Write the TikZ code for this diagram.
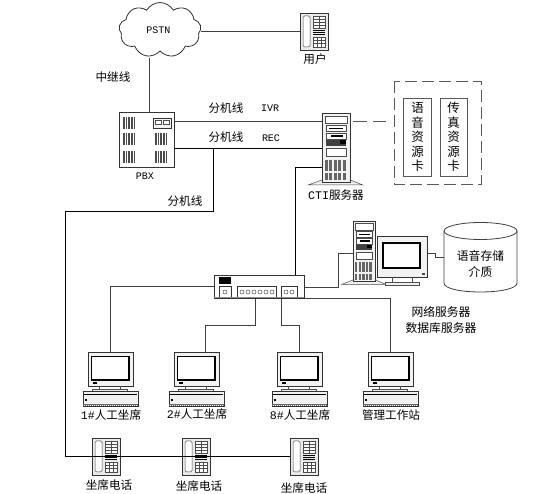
\documentclass[tikz,border=0pt]{standalone}
\usepackage{fontspec}
\usetikzlibrary{shapes.symbols}
\setmainfont{Noto Sans CJK SC}
\newfontfamily\latinmono{Liberation Mono}
\tikzset{
  x=1pt,y=-1pt,
  wire/.style={draw=black!75,line width=0.8pt},
  dark/.style={draw=black!80,line width=0.7pt},
  thin part/.style={draw=black!70,line width=0.5pt},
  lab/.style={font=\fontsize{11.6}{12}\selectfont,inner sep=0pt,text=black},
  mono/.style={font=\fontsize{10}{12}\latinmono,inner sep=0pt,text=black},
  phone/.pic={
    \draw[dark,fill=black!8] (0,0) rectangle (28,37);
    \draw[thin part,fill=white,rounded corners=1.5pt] (3,3) rectangle (10,34);
    \draw[thin part,fill=white] (13,3) rectangle (25,15);
    \foreach \yy in {6,9,12}{\draw[thin part] (13,\yy)--(25,\yy);}
    \draw[thin part] (19,3)--(19,15);
    \foreach \yy in {17,19,21}{\draw[black,line width=0.6pt] (13,\yy)--(25,\yy);}
    \draw[thin part,fill=white] (13,24) rectangle (25,34);
    \foreach \yy in {27,30.5}{\draw[thin part] (13,\yy)--(25,\yy);}
    \foreach \xx in {17,21}{\draw[thin part] (\xx,24)--(\xx,34);}
  },
  workstation/.pic={
    \draw[dark,fill=black!5] (0,0) rectangle (45,34);
    \draw[black,line width=1.6pt,fill=white] (3.5,4.5) rectangle (41,28);
    \fill[black] (5,30.5) rectangle (9,32);
    \draw[thin part] (11,34)--(11,37.5) (32,34)--(32,37.5);
    \draw[thin part,fill=black!8] (4,37.5) rectangle (39,39.5);
    \draw[dark,fill=black!5] (-5,39.5) rectangle (50,54.5);
    \draw[black,line width=1pt] (-4,42.5)--(49,42.5);
    \fill[black!60] (-5,52) rectangle (50,54.5);
    \foreach \xx in {-4,-2,...,49}{\fill[white] (\xx,52.6) rectangle (\xx+.8,53.6);}
    \fill[black] (-3,47.5) rectangle (-1,49.5);
  },
  tower/.pic={
    \draw[thin part,fill=black!6] (-14,72) -- (0,67) -- (28,67) -- (41,72) -- cycle;
    \draw[dark,fill=black!5] (0,0) rectangle (28,69);
    \draw[thin part,fill=white] (3,3) rectangle (25,10);
    \draw[thin part,fill=white] (4,12) rectangle (24,18);
    \draw[black,line width=.7pt] (7,15)--(21,15);
    \draw[thin part,fill=white] (4,20) rectangle (24,26);
    \fill[black] (9,22) rectangle (21,24);
    \fill[black!75] (4,27) rectangle (24,33);
    \fill[black] (18,27) rectangle (24,31);
    \draw[thin part,fill=white] (4,35) rectangle (24,43);
    \foreach \xx in {2.5,7,11.5,16,20.5}{
      \fill[black!60] (\xx,47) rectangle (\xx+3,58);
      \fill[black!60] (\xx,60) rectangle (\xx+3,67);
    }
  },
  vent/.pic={
    \foreach \xx in {0,1.6,...,12}{\draw[black!70,line width=.6pt] (\xx,0)--(\xx,12);}
  },
}
\begin{document}
\begin{tikzpicture}
\useasboundingbox (0,0) rectangle (539,494);
\fill[white] (0,0) rectangle (539,494);
\coordinate (tapA) at (213,148);
\coordinate (tapB) at (213,211);
\coordinate (railC) at (65,211);
\coordinate (railD) at (65,456);
\node[cloud,draw=black!80,fill=white,line width=.8pt,cloud puffs=9,cloud puff arc=120,aspect=1.5,minimum width=82pt,minimum height=55pt,inner sep=0pt] (pstn) at (160,30) {};
\node[mono] at (158.5,30) {PSTN};
\node[draw=black!80,line width=.8pt,minimum width=55pt,minimum height=55pt,inner sep=0pt] (pbx) at (146.5,139.5) {};
\coordinate (phoneU) at (300,31);
\draw[wire] (201,31) -- (phoneU);
\draw[wire] (149,58) -- (149,112);
\draw[wire] (174,121) -- (322,121);
\draw[black,line width=.8pt] (174,148) -- (322,148);
\draw[black,line width=.8pt] (tapA) -- (tapB) -- (railC) -- (railD) -- (290,456);
\draw[black,line width=.8pt] (322,167) -- (295,167) -- (295,275);
\draw[wire] (214,286) -- (110,286) -- (110,352);
\draw[wire] (255,298) -- (255,325) -- (205,325) -- (205,352);
\draw[wire] (281,298) -- (281,325) -- (299,325) -- (299,352);
\draw[wire] (304,287) -- (338,287) -- (338,253) -- (372,253);
\draw[wire] (304,298) -- (390,298) -- (390,352);
\draw[wire] (427,253) -- (435,253) -- (435,257) -- (444,257);
\foreach \px/\py in {123/117,123/133,123/151,155/133,155/151}{\pic at (\px,\py) {vent};}
\draw[dark,fill=black!5] (153,118) rectangle (171,128);
\draw[thin part,fill=white] (155,120) rectangle (161,124);
\draw[thin part,fill=white] (163,120) rectangle (169,124);
\node[mono] at (145,176) {PBX};
\pic at (300,13) {phone};
\node[lab] at (315,59) {用户};
\node[lab] at (113,77) {中继线};
\node[lab] at (226,108) {分机线};
\node[lab] at (226,137) {分机线};
\node[lab] at (185,201) {分机线};
\node[mono] at (270,108) {IVR};
\node[mono] at (271,138) {REC};
\pic at (322,113) {tower};
\node[lab] at (336,195) {{\latinmono CTI}服务器};
\draw[draw=black!65,line width=.9pt,dash pattern=on 14pt off 6pt] (353,121) -- (386,121);
\draw[draw=black!65,line width=.9pt,dash pattern=on 12pt off 5pt] (394,81) rectangle (481,184);
\node[draw=black!65,line width=.9pt,fill=white,minimum width=28pt,minimum height=78pt,inner sep=0pt,font=\fontsize{12.5}{14.5}\selectfont,align=center] (card1) at (417.5,137) {语\\音\\资\\源\\卡};
\node[draw=black!65,line width=.9pt,fill=white,minimum width=27pt,minimum height=78pt,inner sep=0pt,font=\fontsize{12.5}{14.5}\selectfont,align=center] (card2) at (453.5,137) {传\\真\\资\\源\\卡};
\pic[xscale=.8,yscale=.88] at (353,221) {tower};
\draw[dark,fill=black!5] (377,236) rectangle (427,277);
\draw[black,line width=1.8pt,fill=white] (383,243) rectangle (420,268);
\fill[black!70] (422,273) rectangle (425,275);
\draw[thin part,fill=black!6] (385,282) rectangle (419,285);
\draw[thin part] (392,277)--(392,282) (412,277)--(412,282);
\draw[draw=black!75,line width=.8pt,fill=white] (444,231) -- (444,283) .. controls (444,295) and (517,295) .. (517,283) -- (517,231);
\draw[draw=black!75,line width=.8pt,fill=white] (480.5,231) ellipse[x radius=36.5,y radius=8.5];
\node[lab,align=center,font=\fontsize{11.8}{16}\selectfont] at (480.5,264) {语音存储\\介质};
\node[lab,align=center,font=\fontsize{11.8}{16}\selectfont] at (441,320) {网络服务器\\数据库服务器};
\draw[dark,fill=white] (214,275) rectangle (304,298);
\fill[black] (219,277.5) rectangle (231,284);
\foreach \a/\b in {219/231,237/276,281/297}{\draw[dark,fill=white] (\a,286) rectangle (\b,298);}
\draw[draw=black!45,line width=1pt] (214,298) -- (304,298);
\foreach \cx in {225,242,248,254,260,266,272,286,292}{\draw[thin part] (\cx,292) circle (2);}
\foreach \wx/\wy/\wt in {88/415/{{\latinmono 1\#}人工坐席},174/414/{{\latinmono 2\#}人工坐席},277/415/{{\latinmono 8\#}人工坐席},368/415/管理工作站}{
  \pic at (\wx,352) {workstation};
  \node[lab] at (\wx+23,\wy) {\wt};
}
\pic at (92,438) {phone};
\pic at (182,438) {phone};
\pic at (290,438) {phone};
\draw[black,line width=.8pt] (65,456) -- (290,456);
\node[lab] at (109,485) {坐席电话};
\node[lab] at (199,486) {坐席电话};
\node[lab] at (304,488) {坐席电话};
\end{tikzpicture}
\end{document}
